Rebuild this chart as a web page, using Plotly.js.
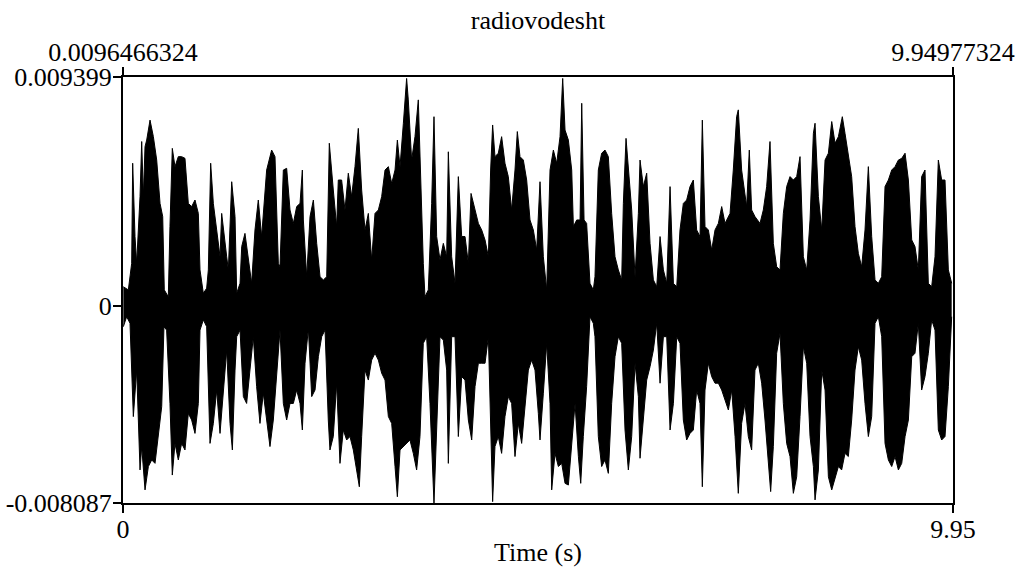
<!DOCTYPE html>
<html>
<head>
<meta charset="utf-8">
<script src="https://cdn.plot.ly/plotly-3.0.1.min.js"></script>
<style>html,body{margin:0;padding:0;background:#fff;}#chart{width:1021px;height:576px;}</style>
</head>
<body>
<div id="chart"></div>
<script>
// Waveform envelope (time in s, amplitude in units of 1e-3)
const upperTime = [0.004,0.064,0.104,0.116,0.144,0.164,0.204,0.224,0.244,0.264,0.284,0.324,0.364,0.404,0.444,0.476,0.495,0.543,0.563,0.591,0.623,0.663,0.703,0.743,0.783,0.823,0.863,0.903,0.923,0.963,1.003,1.023,1.051,1.083,1.123,1.163,1.183,1.203,1.243,1.263,1.303,1.343,1.363,1.403,1.423,1.462,1.502,1.542,1.582,1.622,1.662,1.722,1.782,1.822,1.862,1.882,1.922,1.962,2.002,2.042,2.082,2.122,2.150,2.162,2.202,2.242,2.282,2.322,2.362,2.402,2.442,2.473,2.521,2.561,2.581,2.621,2.661,2.701,2.741,2.781,2.821,2.861,2.901,2.941,2.981,3.021,3.061,3.101,3.141,3.181,3.221,3.261,3.289,3.321,3.361,3.400,3.420,3.460,3.500,3.540,
3.600,3.620,3.660,3.700,3.728,3.760,3.800,3.840,3.880,3.900,3.940,3.980,4.020,4.060,4.100,4.140,4.172,4.220,4.260,4.300,4.340,4.380,4.407,4.431,4.459,4.499,4.539,4.579,4.619,4.659,4.699,4.727,4.759,4.799,4.839,4.879,4.919,4.959,4.999,5.039,5.079,5.119,5.159,5.199,5.239,5.271,5.299,5.339,5.379,5.399,5.439,5.479,5.499,5.527,5.558,5.598,5.638,5.658,5.698,5.738,5.778,5.818,5.858,5.898,5.938,5.978,5.998,6.030,6.058,6.098,6.138,6.178,6.198,6.238,6.278,6.318,6.358,6.398,6.438,6.478,6.518,6.558,6.598,6.638,6.677,6.717,6.757,6.797,
6.837,6.877,6.917,6.945,6.977,7.017,7.057,7.097,7.137,7.177,7.217,7.257,7.277,7.316,7.356,7.376,7.416,7.476,7.508,7.536,7.576,7.636,7.676,7.716,7.756,7.796,7.836,7.876,7.916,7.956,7.996,8.036,8.076,8.116,8.156,8.196,8.236,8.276,8.296,8.336,8.376,8.416,8.456,8.496,8.536,8.576,8.623,8.655,8.695,8.735,8.775,8.815,8.855,8.895,8.935,8.975,9.015,9.055,9.095,9.135,9.175,9.215,9.255,9.295,9.335,9.375,9.415,9.455,9.494,9.534,9.574,9.614,9.654,9.694,9.734,9.774,9.814,9.854,9.894,9.934];
const upperAmp = [0.79,0.66,1.75,5.86,2.85,1.75,4.49,6.75,4.49,6.54,6.81,7.63,6.95,5.99,4.21,3.67,0.66,0.38,3.26,6.47,5.72,6.13,6.13,6.06,4.21,4.08,4.35,3.80,1.48,0.52,0.73,1.48,5.86,4.21,3.12,2.02,3.80,3.12,2.02,1.48,5.10,3.67,0.52,0.93,2.44,2.98,2.02,0.93,3.12,4.35,2.85,5.58,6.40,6.13,1.75,1.61,5.58,5.65,3.94,3.39,4.08,4.21,5.58,3.53,1.20,3.67,4.35,2.57,1.20,1.07,1.20,6.68,4.76,3.26,5.17,5.17,3.94,5.45,4.49,5.72,7.29,4.76,3.12,3.80,1.89,3.80,3.94,4.49,5.58,5.72,5.03,5.58,6.81,5.72,7.50,9.34,8.46,5.99,6.95,8.46,
1.75,0.38,0.66,4.21,7.77,2.85,1.89,2.57,2.02,6.33,2.02,0.93,5.31,2.85,2.85,1.75,4.62,3.94,3.39,3.12,2.71,2.02,5.58,7.43,6.13,6.27,6.95,5.86,5.31,3.94,5.58,7.16,6.13,5.99,5.17,3.53,3.12,2.30,5.10,2.02,0.66,5.58,6.40,5.86,6.95,9.34,7.22,6.81,5.58,3.26,3.53,3.53,8.32,3.53,3.39,0.93,0.66,1.20,5.58,6.27,6.40,6.13,3.80,2.02,1.48,1.07,4.21,6.88,5.58,3.94,1.20,3.80,5.99,4.90,5.45,2.57,1.07,0.79,2.85,1.48,0.93,4.90,0.93,0.79,3.12,4.21,4.35,4.90,
5.17,3.12,2.85,7.63,3.26,3.12,2.30,3.12,3.39,4.08,3.39,3.67,3.80,5.58,7.77,8.05,5.58,4.08,6.40,3.94,3.67,3.39,3.94,4.90,6.75,2.57,1.61,1.48,3.80,4.90,5.31,5.17,5.31,6.13,2.02,1.48,3.53,7.09,7.50,4.49,3.12,5.99,6.27,7.57,6.68,6.95,7.77,7.09,6.13,5.31,3.26,2.16,1.61,3.12,5.72,2.85,1.07,0.93,1.20,4.90,5.17,5.58,5.72,5.99,6.06,6.27,5.17,2.71,2.44,1.48,5.31,5.58,0.93,0.79,2.02,5.99,5.17,5.17,1.48,0.93];

const lowerTime = [0.004,0.044,0.084,0.124,0.164,0.204,0.224,0.264,0.304,0.344,0.384,0.424,0.464,0.491,0.523,0.563,0.591,0.623,0.663,0.703,0.743,0.783,0.823,0.863,0.903,0.923,0.963,1.003,1.043,1.083,1.123,1.163,1.203,1.243,1.283,1.311,1.343,1.363,1.403,1.443,1.482,1.522,1.562,1.602,1.642,1.682,1.722,1.762,1.802,1.842,1.862,1.882,1.922,1.962,2.002,2.042,2.082,2.122,2.150,2.182,2.222,2.262,2.302,2.342,2.382,2.422,2.461,2.481,2.521,2.561,2.601,2.641,2.681,2.721,2.761,2.801,2.833,2.861,2.901,2.941,2.981,3.021,3.061,3.101,3.141,3.181,3.221,3.261,3.289,3.321,3.361,3.400,3.440,3.480,3.520,3.560,
3.600,3.640,3.680,3.728,3.760,3.800,3.840,3.880,3.900,3.940,3.980,4.020,4.060,4.100,4.140,4.180,4.220,4.260,4.300,4.340,4.380,4.407,4.431,4.459,4.499,4.539,4.579,4.619,4.659,4.699,4.739,4.779,4.819,4.859,4.899,4.939,4.979,4.999,5.039,5.079,5.119,5.139,5.179,5.219,5.259,5.299,5.339,5.379,5.419,5.459,5.487,5.518,5.558,5.598,5.638,5.658,5.698,5.738,5.778,5.818,5.858,5.898,5.938,5.978,6.018,6.058,6.098,6.138,6.178,6.198,6.238,6.278,6.318,6.358,6.398,6.438,6.478,6.518,6.558,6.598,6.638,6.677,6.717,6.757,6.797,
6.837,6.877,6.917,6.945,6.977,7.017,7.057,7.097,7.137,7.177,7.217,7.257,7.297,7.337,7.376,7.416,7.456,7.496,7.536,7.576,7.616,7.656,7.696,7.736,7.764,7.796,7.836,7.876,7.916,7.956,7.996,8.036,8.076,8.116,8.156,8.196,8.236,8.276,8.296,8.336,8.376,8.416,8.456,8.496,8.536,8.576,8.615,8.655,8.695,8.735,8.775,8.815,8.855,8.895,8.935,8.975,9.015,9.055,9.095,9.135,9.175,9.215,9.255,9.295,9.335,9.375,9.415,9.455,9.494,9.534,9.574,9.614,9.654,9.694,9.734,9.774,9.814,9.854,9.894,9.934];
const lowerAmp = [-0.85,-0.44,-0.71,-4.54,-2.63,-6.73,-5.77,-7.55,-6.59,-6.32,-6.46,-5.36,-4.13,-0.85,-0.99,-4.00,-6.94,-5.64,-6.32,-5.64,-5.91,-4.41,-4.68,-5.23,-4.00,-0.99,-0.57,-0.85,-5.64,-4.82,-3.45,-5.23,-3.31,-1.81,-4.82,-5.91,-2.63,-1.26,-0.99,-3.72,-4.00,-2.49,-1.26,-3.31,-4.82,-3.58,-4.68,-5.77,-4.68,-2.63,-1.67,-0.99,-4.00,-4.68,-4.00,-4.00,-3.45,-4.00,-5.09,-2.35,-0.92,-3.72,-3.45,-2.08,-1.26,-0.99,-4.68,-5.91,-5.36,-3.17,-6.46,-5.09,-5.50,-5.36,-5.91,-6.73,-7.42,-5.36,-2.63,-3.04,-2.22,-1.94,-2.22,-2.76,-3.04,-4.54,-4.82,-6.59,-7.83,-5.91,-5.77,-5.64,-5.50,-6.05,-6.73,-5.36,
-1.53,-1.26,-4.00,-8.10,-5.36,-1.26,-1.40,-2.63,-6.46,-1.26,-1.26,-5.36,-2.90,-3.04,-4.68,-5.50,-3.31,-2.35,-2.35,-2.35,-1.26,-5.09,-8.03,-5.77,-5.36,-6.05,-4.54,-3.72,-4.00,-6.18,-4.82,-5.64,-4.00,-2.63,-2.22,-2.63,-4.41,-5.50,-3.58,-1.53,-4.00,-7.55,-6.05,-6.59,-6.46,-7.28,-7.35,-5.77,-4.00,-6.18,-7.28,-5.36,-3.31,-0.44,-0.71,-1.26,-5.36,-6.59,-6.32,-6.87,-4.00,-2.08,-1.26,-1.53,-5.09,-6.73,-5.36,-2.35,-3.72,-6.25,-4.68,-3.04,-2.49,-1.81,-0.71,-3.17,-1.26,-1.26,-5.09,-4.00,-1.26,-1.53,-4.68,-5.50,-5.23,
-5.09,-3.45,-4.00,-7.42,-3.45,-2.35,-2.90,-3.17,-3.17,-3.45,-3.86,-4.27,-3.45,-5.36,-7.69,-4.82,-4.00,-5.36,-5.91,-2.63,-2.35,-3.17,-4.68,-6.32,-7.62,-5.77,-1.94,-1.12,-4.00,-5.64,-6.18,-7.69,-7.01,-4.54,-1.67,-2.35,-5.36,-6.59,-7.96,-6.73,-2.63,-3.45,-7.01,-7.55,-7.01,-6.59,-6.73,-6.05,-6.18,-4.68,-2.63,-1.67,-2.22,-4.00,-5.36,-4.54,-0.71,-0.44,-1.26,-5.64,-6.32,-6.59,-6.18,-6.73,-6.46,-5.36,-4.68,-2.08,-1.94,-0.71,-3.45,-2.90,-1.94,-0.57,-0.99,-5.09,-5.50,-5.36,-3.31,-0.44];

const ampScale = 1e-3;
const duration = 9.94977324;
const yMin = -0.008087, yMax = 0.009399;
const xTickVals = [0, duration];
const xTickText = ['0', '9.95'];
const topTickText = ['0.0096466324', '9.94977324'];
const yTickVals = [yMin, 0, yMax];
const yTickText = ['-0.008087', '0', '0.009399'];

const FONT = 'Liberation Serif, Times New Roman, serif';
const traceStyle = {
  type: 'scatter', mode: 'lines', fill: 'tozeroy',
  fillcolor: '#000000', line: {color: '#000000', width: 1},
  hoverinfo: 'skip', showlegend: false
};
const data = [
  Object.assign({x: upperTime, y: upperAmp.map(v => v * ampScale), xaxis: 'x', yaxis: 'y'}, traceStyle),
  Object.assign({x: lowerTime, y: lowerAmp.map(v => v * ampScale), xaxis: 'x2', yaxis: 'y'}, traceStyle)
];

const axisCommon = {
  ticks: 'outside', ticklen: 8, tickwidth: 2, tickcolor: '#000',
  showline: true, linewidth: 2, linecolor: '#000',
  showgrid: false, zeroline: false, fixedrange: true,
  tickfont: {family: FONT, size: 26, color: '#000'}
};

const layout = {
  width: 1021, height: 576,
  margin: {l: 123, r: 68, t: 77, b: 73, pad: 0},
  paper_bgcolor: '#ffffff', plot_bgcolor: '#ffffff',
  font: {family: FONT, size: 26, color: '#000'},
  showlegend: false,
  title: {text: 'radiovodesht', font: {family: FONT, size: 26, color: '#000'},
          x: 0.5, xref: 'paper', xanchor: 'center', y: 0.965, yref: 'container', yanchor: 'middle'},
  xaxis: Object.assign({}, axisCommon, {
    range: [0, duration], tickmode: 'array', tickvals: xTickVals, ticktext: xTickText,
    ticklabelstandoff: -6,
    title: {text: 'Time (s)', font: {family: FONT, size: 26, color: '#000'}, standoff: 0}
  }),
  xaxis2: Object.assign({}, axisCommon, {
    overlaying: 'x', side: 'top', anchor: 'y', ticklabelstandoff: -4,
    range: [0, duration], tickmode: 'array', tickvals: xTickVals, ticktext: topTickText
  }),
  yaxis: Object.assign({}, axisCommon, {
    range: [yMin, yMax], tickmode: 'array', tickvals: yTickVals, ticktext: yTickText,
    ticklabelstandoff: -4, mirror: true
  })
};

Plotly.newPlot('chart', data, layout, {displayModeBar: false, staticPlot: true});
</script>
</body>
</html>
